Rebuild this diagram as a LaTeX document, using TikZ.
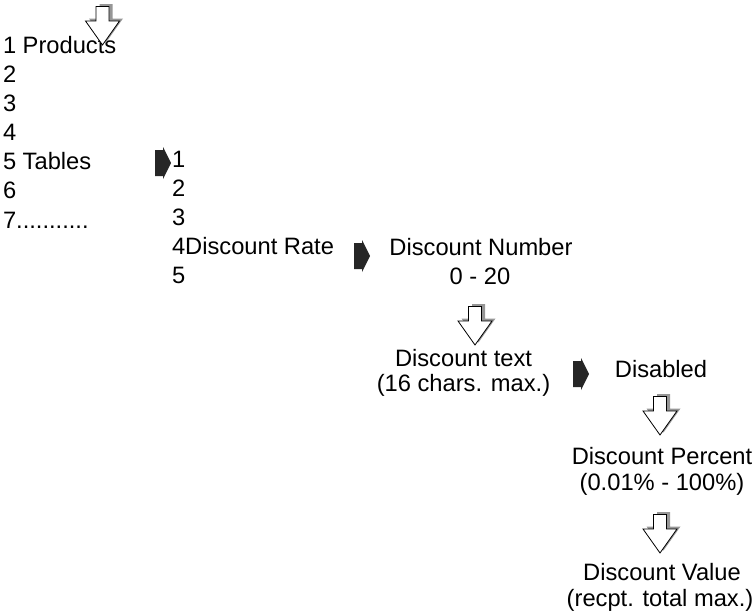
\documentclass[tikz,border=0pt]{standalone}
\usepackage{fontspec}
\setmainfont{Liberation Sans}
\definecolor{shadowgray}{RGB}{150,150,150}
\tikzset{
  lbl/.style={inner sep=0pt, outer sep=0pt, font=\fontsize{23.7}{26}\selectfont},
  lw/.style={lbl, anchor=base west},
  lc/.style={lbl, anchor=base},
  downarr/.pic={
    \fill[shadowgray] (-3,-41) -- (10,-41) -- (10,-26.5) -- (20.5,-26.5) -- (3.5,-2.5) -- (-13.5,-26.5) -- (-3,-26.5) -- cycle;
    \draw[fill=white, line width=0.8pt, line join=miter] (-6.5,-38.5) -- (6.5,-38.5) -- (6.5,-24) -- (17,-24) -- (0,0) -- (-17,-24) -- (-6.5,-24) -- cycle;
  },
  rightarr/.pic={
    \fill[black!85] (0,-13) -- (8,-13) -- (8,-16) -- (16,0) -- (8,16) -- (8,13) -- (0,13) -- cycle;
  }
}
\begin{document}
\begin{tikzpicture}[x=1pt, y={(0pt,-1pt)}]
\useasboundingbox (0,0) rectangle (756,616);
% left column
\node[lw] (p1) at (3,53) {1 Products};
\node[lw] (p2) at (3,82.2) {2};
\node[lw] (p3) at (3,111.3) {3};
\node[lw] (p4) at (3,140.5) {4};
\node[lw] (p5) at (3,169.7) {5 Tables};
\node[lw] (p6) at (3,198.8) {6};
\node[lw] (p7) at (3,228) {7...........};
% second column
\node[lw] (t1) at (172,167.3) {1};
\node[lw] (t2) at (172,196.3) {2};
\node[lw] (t3) at (172,225.3) {3};
\node[lw] (t4) at (172,254.3) {4Discount Rate};
\node[lw] (t5) at (172,283.3) {5};
% right side
\node[lc] (dn) at (481,255) {Discount Number};
\node[lc] (dr) at (480,284) {0 - 20};
\node[lc] (dt) at (463.5,366) {Discount text};
\node[lc] (dt2) at (463.5,391.5) {(16 chars. max.)};
\node[lc] (ds) at (661,377) {Disabled};
\node[lc] (dp) at (662,464) {Discount Percent};
\node[lc] (dp2) at (662,490) {(0.01\% - 100\%)};
\node[lc] (dv) at (662,580) {Discount Value};
\node[lc] (dv2) at (660,606.5) {(recpt. total max.)};
% arrows
\pic at (102.5,45) {downarr};
\pic at (475,345) {downarr};
\pic at (660,435) {downarr};
\pic at (660,553) {downarr};
\pic at (155,163) {rightarr};
\pic at (354,256) {rightarr};
\pic at (573,374) {rightarr};
\end{tikzpicture}
\end{document}
